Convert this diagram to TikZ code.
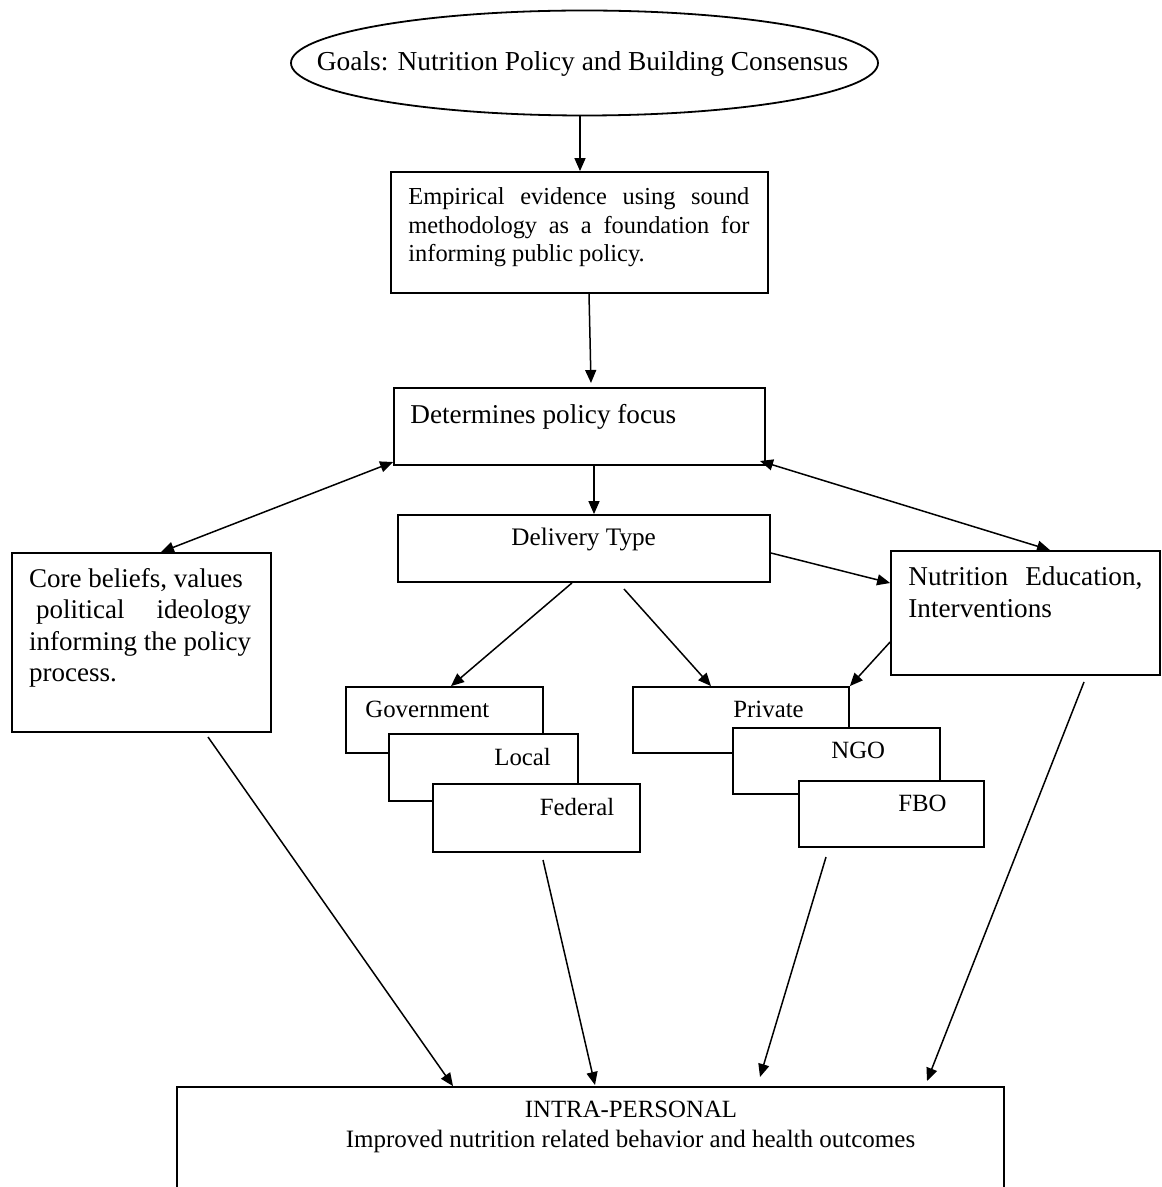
\documentclass[tikz,border=0pt]{standalone}
\usepackage{fontspec}
\setmainfont{Liberation Serif}
\usetikzlibrary{arrows.meta,fit,shapes.geometric}
\newcommand\fsz[2]{\fontsize{#1}{#2}\selectfont}
\begin{document}
\begin{tikzpicture}[x=0.5pt,y=-0.5pt,
  bx/.style={draw, fill=white, line width=0.9pt, inner sep=0pt, rectangle},
  arr/.style={line width=0.75pt, -{Triangle[length=6.5pt,width=5.5pt]}},
  darr/.style={line width=0.75pt, {Triangle[length=6.5pt,width=5.5pt]}-{Triangle[length=6.5pt,width=5.5pt]}},
  txt/.style={inner sep=0pt, anchor=base west, font=\fsz{12.4}{14.3}},
]
\useasboundingbox (0,0) rectangle (1161,1187);
\clip (0,0) rectangle (1161,1187);

% top ellipse
\node[draw, ellipse, line width=0.9pt, minimum width=293.5pt, minimum height=52.5pt, inner sep=0pt] (goal) at (584.5,63) {};
\node[txt, anchor=base, font=\fsz{13.7}{15.8}] (goalt) at (582.5,70.7) {Goals: Nutrition Policy and Building Consensus};

% boxes
\node[bx, fit={(391,172)(768,293)}] (emp) {};
\node[bx, fit={(394,388)(765,465)}] (det) {};
\node[bx, fit={(398,515)(770,582)}] (del) {};
\node[bx, fit={(12,553)(271,732)}] (core) {};
\node[bx, fit={(891,551)(1160,675)}] (nut) {};
\node[bx, fit={(346,687)(543,753)}] (gov) {};
\node[bx, fit={(389,734)(578,801)}] (loc) {};
\node[bx, fit={(433,784)(640,852)}] (fed) {};
\node[bx, fit={(633,687)(849,753)}] (pri) {};
\node[bx, fit={(733,728)(940,794)}] (ngo) {};
\node[bx, fit={(799,781)(984,847)}] (fbo) {};
\node[bx, fit={(177,1087)(1004,1210)}] (intra) {};

% texts
\node[txt] (empt) at (408,205) {\parbox[t]{170.5pt}{\fsz{12.2}{14.25}%
  \hbox to\hsize{Empirical\hfill evidence\hfill using\hfill sound}%
  \hbox to\hsize{methodology\hfill as\hfill a\hfill foundation\hfill for}%
  \hbox{informing public policy.}}};
\node[txt, font=\fsz{13.6}{15.6}] (dett) at (410,423) {Determines policy focus};
\node[txt, font=\fsz{12.6}{14.5}] (delt) at (511,545) {Delivery Type};
\node[txt] (coret) at (28.7,587) {\parbox[t]{112pt}{\fsz{13.5}{15.75}%
  \hbox{Core beliefs, values}%
  \hbox to 111pt{\hspace*{3.5pt}political\hfill ideology}%
  \hbox{informing the policy}%
  \hbox{process.}}};
\node[txt] (nutt) at (908,585) {\parbox[t]{118pt}{\fsz{13.6}{16}%
  \hbox to 117pt{Nutrition\hfill Education,}%
  \hbox{Interventions}}};
\node[txt] (govt) at (365,717) {Government};
\node[txt] (loct) at (494,765) {Local};
\node[txt] (fedt) at (539.5,815) {Federal};
\node[txt] (prit) at (733,717) {Private};
\node[txt] (ngot) at (831,758) {NGO};
\node[txt] (fbot) at (898,811) {FBO};
\node[txt, anchor=base] (intrat1) at (631,1117) {INTRA-PERSONAL};
\node[txt, anchor=base, font=\fsz{12.5}{14.4}] (intrat2) at (630.5,1147) {Improved nutrition related behavior and health outcomes};

% free ends of connectors
\coordinate (g0) at (580,116);
\coordinate (d0) at (591,383);
\coordinate (dn0) at (760,461);
\coordinate (dp0) at (624,589);
\coordinate (ci0) at (208,737);
\coordinate (fi0) at (543,860);
\coordinate (bi0) at (826,857);
\coordinate (bi1) at (760,1077);
\coordinate (ni0) at (1084,682);
\coordinate (ni1) at (927,1081);

% connectors
\draw[arr] (g0) -- (g0 |- emp.north);
\draw[arr] (emp.south -| 589,0) -- (d0);
\draw[arr] (det.south -| 594,0) -- (del.north -| 594,0);
\draw[darr] (core.north -| 161,0) -- (det.west |- 0,462);
\draw[darr] (dn0) -- (nut.north -| 1050,0);
\draw[arr] (del.east |- 0,553) -- (nut.west |- 0,583);
\draw[arr] (del.south -| 572,0) -- (gov.north -| 451,0);
\draw[arr] (dp0) -- (pri.north -| 711,0);
\draw[arr] (nut.west |- 0,642) -- (pri.north east);
\draw[arr] (ci0) -- (intra.north -| 453,0);
\draw[arr] (fi0) -- (595,1085);
\draw[arr] (bi0) -- (bi1);
\draw[arr] (ni0) -- (ni1);
\end{tikzpicture}
\end{document}
